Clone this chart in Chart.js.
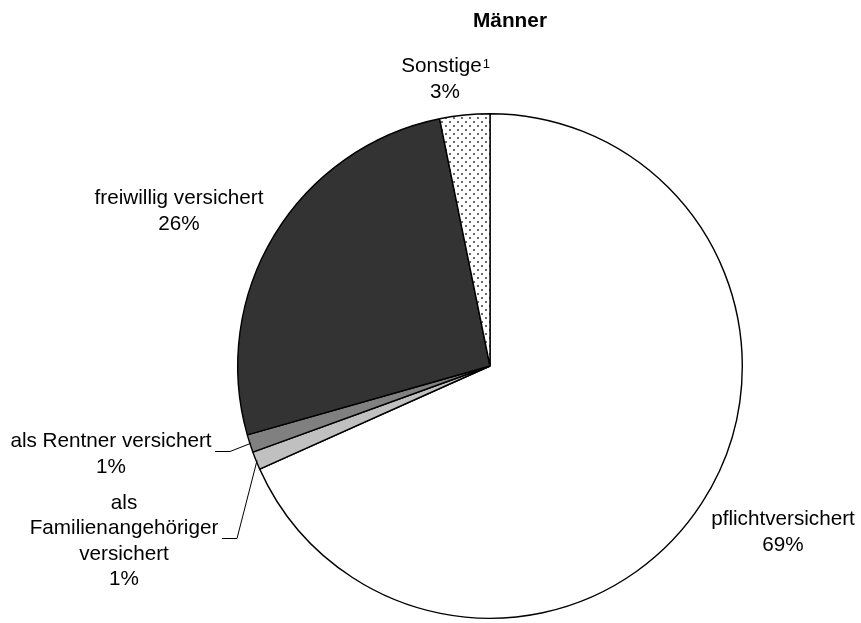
<!DOCTYPE html>
<html>
<head>
<meta charset="utf-8">
<script src="https://cdn.jsdelivr.net/npm/chart.js@4.4.1/dist/chart.umd.min.js"></script>
<style>
    html, body { margin: 0; padding: 0; background: #ffffff; }
    #wrap { width: 861px; height: 623px; position: relative; }
</style>
</head>
<body>
<div id="wrap"><canvas id="chart" width="861" height="623"></canvas></div>
<script>
// data, clockwise from 12 o'clock
const categories = ['pflichtversichert', 'als Familienangehöriger versichert', 'als Rentner versichert', 'freiwillig versichert', 'Sonstige'];
const shares = [68.3, 1.15, 1.15, 26.2, 3.2];
const shareLabels = ['69%', '1%', '1%', '26%', '3%'];
const chartTitle = 'Männer';

const FONT = '"Liberation Sans", Arial, sans-serif';

// dotted fill for "Sonstige"
function makeDots() {
    const c = document.createElement('canvas');
    c.width = 8; c.height = 8;
    const g = c.getContext('2d');
    g.fillStyle = '#ffffff';
    g.fillRect(0, 0, 8, 8);
    g.fillStyle = '#6a6a6a';
    g.fillRect(1, 1, 2, 2);
    g.fillRect(5, 5, 2, 2);
    return g.createPattern(c, 'repeat');
}

const ctx = document.getElementById('chart').getContext('2d');
const fills = ['#ffffff', '#c0c0c0', '#808080', '#333333', makeDots()];

// label lines per slice; anchor = centre x, baseline of first line
const labelText = [
    ['pflichtversichert', shareLabels[0]],
    ['als', 'Familienangehöriger', 'versichert', shareLabels[1]],
    ['als Rentner versichert', shareLabels[2]],
    ['freiwillig versichert', shareLabels[3]],
    ['Sonstige', shareLabels[4]],
];
const labelAnchor = [[783, 525], [124, 508.5], [111, 447], [179, 204], [445, 72]];
const lineH = 25.5;

const labelPlugin = {
    id: 'pieLabels',
    afterDraw(chart) {
        const c = chart.ctx;
        const meta = chart.getDatasetMeta(0);
        c.save();
        c.fillStyle = '#000';
        c.textAlign = 'center';
        c.textBaseline = 'alphabetic';
        c.font = 'bold 20.8px ' + FONT;
        c.fillText(chartTitle, 510, 27);

        c.font = '20.7px ' + FONT;
        labelText.forEach((lines, i) => {
            const [x, y] = labelAnchor[i];
            lines.forEach((t, j) => {
                // first line of Sonstige shifts left to leave room for the footnote mark
                const dx = (i === 4 && j === 0) ? -3.5 : 0;
                c.fillText(t, x + dx, y + j * lineH);
            });
        });
        const w = c.measureText('Sonstige').width;
        c.font = '13px ' + FONT;
        c.textAlign = 'left';
        c.fillText('1', labelAnchor[4][0] - 3.5 + w / 2 + 1, labelAnchor[4][1] - 4);

        // leader lines for the two small slices
        c.strokeStyle = '#000';
        c.lineWidth = 1;
        const leaders = [[1, 222, 538, 237], [2, 215, 451, 230]];
        leaders.forEach(([i, x0, y0, x1]) => {
            const arc = meta.data[i];
            const mid = (arc.startAngle + arc.endAngle) / 2;
            const ex = arc.x + Math.cos(mid) * (arc.outerRadius - 1);
            const ey = arc.y + Math.sin(mid) * (arc.outerRadius - 1);
            c.beginPath();
            c.moveTo(x0, y0 + 0.5);
            c.lineTo(x1, y0 + 0.5);
            c.lineTo(ex, ey);
            c.stroke();
        });
        c.restore();
    }
};

new Chart(ctx, {
    type: 'pie',
    data: {
        labels: categories,
        datasets: [{
            data: shares,
            backgroundColor: fills,
            borderColor: '#000000',
            borderWidth: 1.4,
            borderAlign: 'center',
        }],
    },
    options: {
        responsive: false,
        animation: false,
        layout: { padding: { left: 237, right: 118, top: 113, bottom: 4 } },
        plugins: {
            legend: { display: false },
            title: { display: false },
            tooltip: { enabled: false },
        },
    },
    plugins: [labelPlugin],
});
</script>
</body>
</html>
